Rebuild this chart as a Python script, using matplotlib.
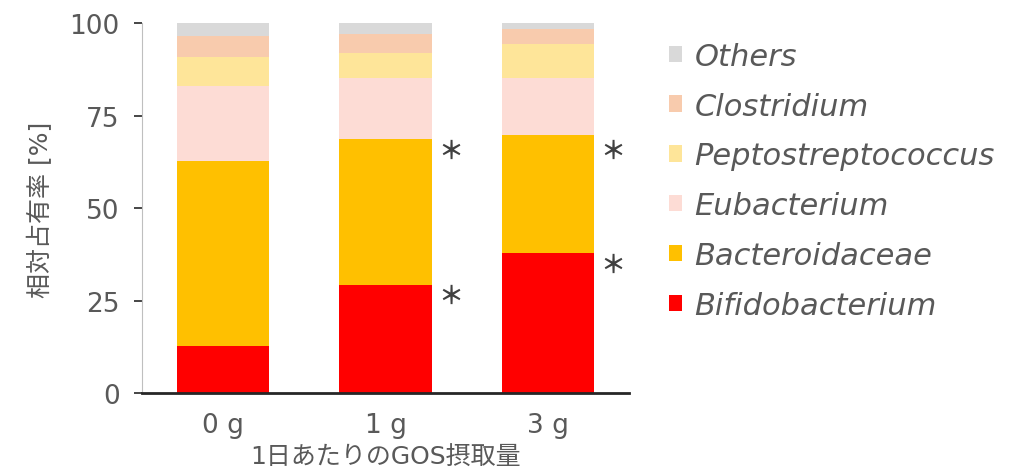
import matplotlib.pyplot as plt
import numpy as np

plt.rcParams['font.family'] = ['DejaVu Sans', 'Noto Sans CJK JP']

doses = ['0 g', '1 g', '3 g']
taxa = ['Bifidobacterium', 'Bacteroidaceae', 'Eubacterium',
        'Peptostreptococcus', 'Clostridium', 'Others']
bifido = [12.9, 29.4, 37.9]
bactero = [50.0, 39.3, 31.9]
eubact = [20.1, 16.4, 15.5]
pepto = [7.9, 7.0, 9.2]
clostr = [5.7, 4.9, 4.0]
others = [3.4, 3.0, 1.5]
colors = ['#ff0000', '#ffc000', '#fddcd5', '#fee599', '#f8cbad', '#d9d9d9']

# significance marks: (bar index, y position)
star_pos = [(1, 65.6), (1, 26.4), (2, 65.6), (2, 34.7)]

txt = '#595959'
fig = plt.figure(figsize=(10.24, 4.77), dpi=100)
ax = fig.add_axes([0.1387, 0.173, 0.4755, 0.776])

x = np.arange(len(doses))
bottom = np.zeros(len(doses))
handles = []
for vals, name, c in zip([bifido, bactero, eubact, pepto, clostr, others], taxa, colors):
    b = ax.bar(x, vals, bottom=bottom, width=0.57, color=c, label=name)
    handles.append(b)
    bottom += np.array(vals)

for i, y in star_pos:
    ax.text(i + 0.40, y, '＊', ha='center', va='center', fontsize=18,
            fontweight='bold', color='#404040', family='Noto Sans CJK JP')

ax.set_xlim(-0.5, 2.5)
ax.set_ylim(0, 100)
ax.set_yticks([0, 25, 50, 75, 100])
ax.set_xticks(x)
ax.set_xticklabels(doses)
ax.tick_params(axis='y', labelsize=19, colors=txt, length=6, width=1.2, pad=10)
ax.tick_params(axis='x', labelsize=19, colors=txt, length=0, pad=13)
ax.spines['top'].set_visible(False)
ax.spines['right'].set_visible(False)
ax.spines['left'].set_color('#bfbfbf')
ax.spines['bottom'].set_color('#262626')
ax.spines['bottom'].set_linewidth(2)
ax.tick_params(axis='y', color='#262626')

ax.set_ylabel('相対占有率 [%]', fontsize=18, color=txt, labelpad=12)
ax.set_xlabel('1日あたりのGOS摂取量', fontsize=18, color=txt, labelpad=5)

leg = fig.legend(handles[::-1], taxa[::-1], loc='upper left',
                 bbox_to_anchor=(0.626, 0.968), frameon=False,
                 handlelength=0.45, handleheight=0.45, handletextpad=0.4,
                 labelspacing=0.68, prop={'size': 22, 'style': 'italic'})
for t in leg.get_texts():
    t.set_color(txt)

fig.savefig('out.png', dpi=100)
